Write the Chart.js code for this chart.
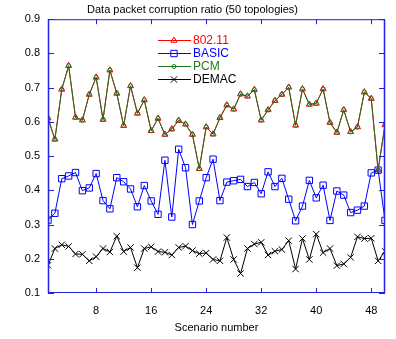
<!DOCTYPE html>
<html>
<head>
  <meta charset="utf-8" />
  <title>Data packet corruption ratio</title>
  <script src="https://cdn.jsdelivr.net/npm/chart.js"></script>
  <style>
    html, body { margin: 0; padding: 0; background: #fff; }
  </style>
</head>
<body>
  <canvas id="chart" width="396" height="339"></canvas>
  <script>
    // scenario numbers (x values)
    const scenarios = [1, 2, 3, 4, 5, 6, 7, 8, 9, 10, 11, 12, 13, 14, 15, 16, 17, 18, 19, 20,
      21, 22, 23, 24, 25, 26, 27, 28, 29, 30, 31, 32, 33, 34, 35, 36, 37, 38, 39, 40,
      41, 42, 43, 44, 45, 46, 47, 48, 49, 50];
    const xTicks = [8, 16, 24, 32, 40, 48];
    const yTicks = [0.1, 0.2, 0.3, 0.4, 0.5, 0.6, 0.7, 0.8, 0.9];

    // corruption ratio per scenario
    const ieee80211 = [0.611, 0.549, 0.695, 0.764, 0.613, 0.605, 0.680, 0.730, 0.607, 0.751,
      0.683, 0.589, 0.705, 0.625, 0.664, 0.574, 0.610, 0.563, 0.579, 0.604,
      0.593, 0.563, 0.463, 0.585, 0.564, 0.612, 0.649, 0.637, 0.681, 0.675,
      0.694, 0.605, 0.635, 0.662, 0.680, 0.701, 0.590, 0.696, 0.651, 0.654,
      0.696, 0.598, 0.569, 0.635, 0.571, 0.585, 0.687, 0.668, 0.459, 0.591];
    const basic = [0.313, 0.333, 0.434, 0.442, 0.452, 0.399, 0.407, 0.449, 0.370, 0.346,
      0.437, 0.425, 0.404, 0.352, 0.414, 0.369, 0.330, 0.488, 0.322, 0.520,
      0.466, 0.300, 0.369, 0.437, 0.491, 0.370, 0.424, 0.428, 0.432, 0.411,
      0.423, 0.390, 0.454, 0.411, 0.435, 0.374, 0.311, 0.354, 0.429, 0.378,
      0.415, 0.312, 0.398, 0.386, 0.335, 0.342, 0.354, 0.451, 0.459, 0.312];
    const pcm = [0.611, 0.549, 0.695, 0.764, 0.613, 0.605, 0.680, 0.730, 0.607, 0.751,
      0.683, 0.589, 0.705, 0.625, 0.664, 0.574, 0.610, 0.563, 0.579, 0.604,
      0.593, 0.563, 0.463, 0.585, 0.564, 0.612, 0.649, 0.637, 0.681, 0.675,
      0.694, 0.605, 0.635, 0.662, 0.680, 0.701, 0.590, 0.696, 0.651, 0.654,
      0.696, 0.598, 0.569, 0.635, 0.571, 0.585, 0.687, 0.668, 0.459, 0.591];
    const demac = [0.181, 0.230, 0.241, 0.236, 0.214, 0.213, 0.194, 0.206, 0.230, 0.220,
      0.266, 0.221, 0.233, 0.174, 0.230, 0.235, 0.221, 0.219, 0.211, 0.233,
      0.237, 0.224, 0.215, 0.217, 0.198, 0.194, 0.262, 0.198, 0.157, 0.230,
      0.243, 0.248, 0.211, 0.222, 0.227, 0.253, 0.170, 0.259, 0.198, 0.272,
      0.218, 0.230, 0.180, 0.185, 0.204, 0.264, 0.259, 0.260, 0.194, 0.222];

    const FONT = 'Liberation Sans, Arial, sans-serif';
    const AXIS_BLUE = '#1f1fe0';

    function series(label, values, color, style, radius, order) {
      return {
        label: label,
        data: values.map((v, i) => ({ x: scenarios[i], y: v })),
        borderColor: color,
        borderWidth: 1,
        pointStyle: style,
        pointRadius: radius,
        pointBorderColor: color,
        pointBackgroundColor: 'rgba(0,0,0,0)',
        pointBorderWidth: 1,
        tension: 0,
        order: order
      };
    }

    // frame with inward ticks on all four sides
    const framePlugin = {
      id: 'frame',
      afterDatasetsDraw(chart) {
        const { ctx, chartArea: a, scales } = chart;
        ctx.save();
        ctx.strokeStyle = AXIS_BLUE;
        ctx.lineWidth = 1;
        ctx.strokeRect(a.left + 0.5, a.top + 0.5, a.right - a.left - 1, a.bottom - a.top - 1);
        ctx.strokeStyle = 'rgba(40,40,230,0.55)';
        ctx.lineWidth = 2;
        ctx.beginPath();
        ctx.moveTo(a.left + 0.5, a.top); ctx.lineTo(a.left + 0.5, a.bottom);
        ctx.moveTo(a.right - 0.5, a.top); ctx.lineTo(a.right - 0.5, a.bottom);
        ctx.stroke();
        ctx.strokeStyle = AXIS_BLUE;
        ctx.lineWidth = 1;
        ctx.beginPath();
        xTicks.forEach(v => {
          const px = Math.round(scales.x.getPixelForValue(v)) + 0.5;
          ctx.moveTo(px, a.bottom); ctx.lineTo(px, a.bottom - 5);
          ctx.moveTo(px, a.top); ctx.lineTo(px, a.top + 5);
        });
        yTicks.forEach(v => {
          const py = Math.round(scales.y.getPixelForValue(v)) + 0.5;
          ctx.moveTo(a.left, py); ctx.lineTo(a.left + 6, py);
          ctx.moveTo(a.right, py); ctx.lineTo(a.right - 6, py);
        });
        ctx.stroke();
        ctx.restore();
      }
    };

    // legend drawn inside the plot
    const legendPlugin = {
      id: 'innerLegend',
      afterDraw(chart) {
        const ctx = chart.ctx;
        const items = [
          { text: '802.11', color: '#ff0000', style: 'triangle', r: 3.5 },
          { text: 'BASIC', color: '#0000ff', style: 'rect', r: 4.5 },
          { text: 'PCM', color: '#1f7a1f', style: 'circle', r: 2 },
          { text: 'DEMAC', color: '#000000', style: 'crossRot', r: 4.5 }
        ];
        ctx.save();
        ctx.font = '12px ' + FONT;
        ctx.textBaseline = 'middle';
        items.forEach((it, i) => {
          const y = 40 + i * 13;
          ctx.strokeStyle = it.color;
          ctx.fillStyle = 'rgba(0,0,0,0)';
          ctx.lineWidth = 1;
          ctx.beginPath();
          ctx.moveTo(158, y + 0.5); ctx.lineTo(191, y + 0.5);
          ctx.stroke();
          Chart.helpers.drawPoint(ctx, { pointStyle: it.style, radius: it.r, rotation: 0, borderWidth: 1 }, 174, y + 0.5);
          ctx.fillStyle = it.color;
          ctx.fillText(it.text, 193, y + 1);
        });
        ctx.restore();
      }
    };

    const font = { family: FONT, size: 11 };

    new Chart(document.getElementById('chart').getContext('2d'), {
      type: 'line',
      data: {
        datasets: [
          series('802.11', ieee80211, '#ff0000', 'triangle', 3.5, 3),
          series('BASIC', basic, '#0000ff', 'rect', 4.5, 2),
          series('PCM', pcm, '#1f6e1f', 'circle', 2, 0),
          series('DEMAC', demac, '#000000', 'crossRot', 4.5, 1)
        ]
      },
      options: {
        responsive: false,
        animation: false,
        layout: { padding: { left: 0, right: 11, top: 0, bottom: 0 } },
        plugins: {
          legend: { display: false },
          tooltip: { enabled: false },
          title: {
            display: true,
            text: 'Data packet corruption ratio (50 topologies)',
            color: '#000',
            font: { family: FONT, size: 11, weight: 'normal' },
            padding: { top: 3, bottom: 3 }
          }
        },
        scales: {
          x: {
            type: 'linear',
            min: 1,
            max: 50,
            afterBuildTicks: s => { s.ticks = xTicks.map(v => ({ value: v })); },
            afterFit: s => { s.height = 46; },
            grid: { display: false, drawTicks: false },
            border: { display: false },
            ticks: { padding: 11, font: font, color: '#000', maxRotation: 0, autoSkip: false },
            title: { display: true, text: 'Scenario number', font: font, color: '#000', padding: { top: 2, bottom: 4 } }
          },
          y: {
            min: 0.1,
            max: 0.9,
            afterBuildTicks: s => { s.ticks = yTicks.map(v => ({ value: v })); },
            afterFit: s => { s.width = 48; },
            grid: { display: false, drawTicks: false },
            border: { display: false },
            ticks: { padding: 8, font: font, color: '#000', callback: v => v.toFixed(1) }
          }
        }
      },
      plugins: [framePlugin, legendPlugin]
    });
  </script>
</body>
</html>
